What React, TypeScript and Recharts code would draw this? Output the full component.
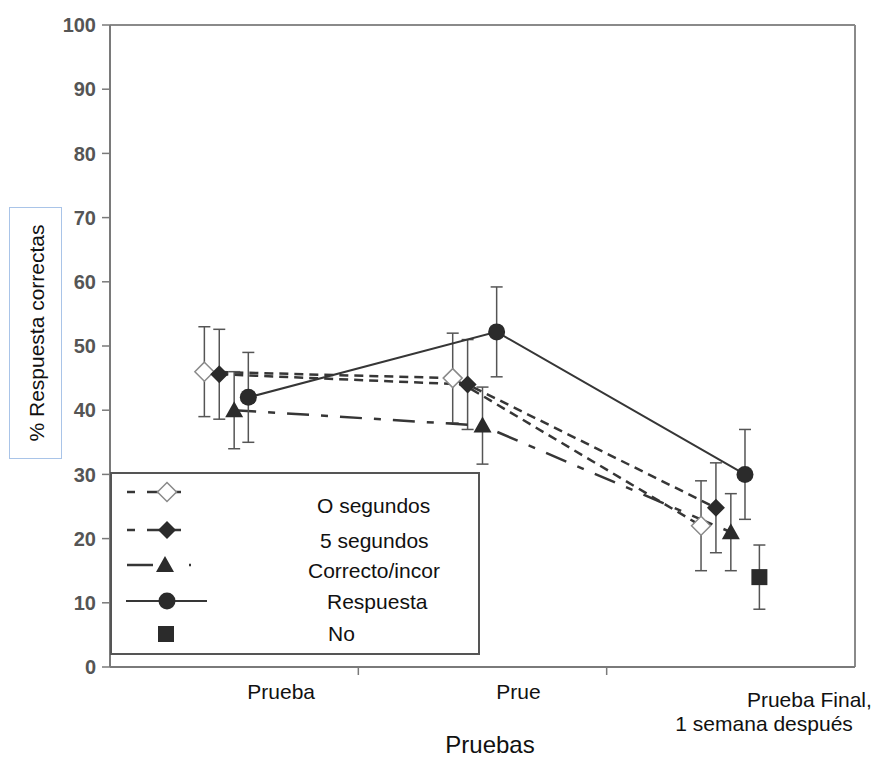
import { ComposedChart, Line, XAxis, YAxis, ErrorBar, ReferenceLine, Legend } from 'recharts';

const FONT = '"Liberation Sans", Arial, sans-serif';

// x categories and y ticks
const CATEGORIES = ['Prueba', 'Prue', 'Prueba Final,|1 semana después'];
const Y_TICKS = [0, 10, 20, 30, 40, 50, 60, 70, 80, 90, 100];

// series values (% correct) and error bar half-lengths
const CERO_SEG = [46, 45, 22];
const CERO_SEG_ERR = [7, 7, 7];
const CINCO_SEG = [45.6, 44, 24.8];
const CINCO_SEG_ERR = [7, 7, 7];
const CORRECTO = [40, 37.6, 21];
const CORRECTO_ERR = [6, 6, 6];
const RESPUESTA = [42, 52.2, 30];
const RESPUESTA_ERR = [7, 7, 7];
const NO_RESP = [null, null, 14];
const NO_RESP_ERR = [null, null, 5];

const W = 876;
const H = 760;
const MARGIN = { top: 25, right: 21, left: 0, bottom: 0 };
const X_AXIS_H = 93;
const AXIS_Y = H - MARGIN.bottom - X_AXIS_H;

const INK = '#2b2b2b';
const LINE = '#363636';
const AXIS = '#7a7a7a';

type Kind = 'openDiamond' | 'diamond' | 'triangle' | 'circle' | 'square';

const SERIES = [
  { key: 'cero', name: 'O segundos', values: CERO_SEG, errors: CERO_SEG_ERR, shift: -0.12, kind: 'openDiamond' as Kind, dash: '9 6', sw: 2.5 },
  { key: 'cinco', name: '5 segundos', values: CINCO_SEG, errors: CINCO_SEG_ERR, shift: -0.06, kind: 'diamond' as Kind, dash: '9 6', sw: 2.5 },
  { key: 'correcto', name: 'Correcto/incor', values: CORRECTO, errors: CORRECTO_ERR, shift: 0, kind: 'triangle' as Kind, dash: '22 12 7 12', sw: 2.5 },
  { key: 'respuesta', name: 'Respuesta', values: RESPUESTA, errors: RESPUESTA_ERR, shift: 0.057, kind: 'circle' as Kind, dash: undefined, sw: 2 },
  { key: 'no', name: 'No', values: NO_RESP, errors: NO_RESP_ERR, shift: 0.115, kind: 'square' as Kind, dash: undefined, sw: 0 },
];

function Marker({ kind, cx, cy }: { kind: Kind; cx: number; cy: number }) {
  if (kind === 'openDiamond') {
    const s = 9.5;
    return <polygon points={`${cx},${cy - s} ${cx + s},${cy} ${cx},${cy + s} ${cx - s},${cy}`} fill="#fff" stroke="#8a8a8a" strokeWidth={1.5} />;
  }
  if (kind === 'diamond') {
    const s = 9;
    return <polygon points={`${cx},${cy - s} ${cx + s},${cy} ${cx},${cy + s} ${cx - s},${cy}`} fill={INK} />;
  }
  if (kind === 'triangle') {
    return <polygon points={`${cx},${cy - 9} ${cx + 9},${cy + 7} ${cx - 9},${cy + 7}`} fill={INK} />;
  }
  if (kind === 'circle') return <circle cx={cx} cy={cy} r={8.5} fill={INK} />;
  return <rect x={cx - 8} y={cy - 8} width={16} height={16} fill={INK} />;
}

function makeDot(kind: Kind) {
  return (props: any) => {
    const { cx, cy, index } = props;
    if (cx == null || cy == null) return <g key={index} />;
    return (
      <g key={index}>
        <Marker kind={kind} cx={cx} cy={cy} />
      </g>
    );
  };
}

function XTick(props: any) {
  const { x, payload } = props;
  const v = payload.value as number;
  if (Number.isInteger(v)) {
    return <line x1={x} x2={x} y1={AXIS_Y} y2={AXIS_Y + 8} stroke={AXIS} strokeWidth={1.5} />;
  }
  const idx = Math.floor(v);
  const style = { fontFamily: FONT, fontSize: 21, fill: '#111' };
  if (idx === 0) {
    return <text x={x + 47} y={AXIS_Y + 32} textAnchor="middle" {...style}>{CATEGORIES[0]}</text>;
  }
  if (idx === 1) {
    return <text x={x + 36} y={AXIS_Y + 32} textAnchor="middle" {...style}>{CATEGORIES[1]}</text>;
  }
  const [l1, l2] = CATEGORIES[2].split('|');
  return (
    <g>
      <text x={x + 141} y={AXIS_Y + 40} textAnchor="end" {...style}>{l1}</text>
      <text x={x + 122} y={AXIS_Y + 64} textAnchor="end" {...style}>{l2}</text>
    </g>
  );
}

function XTitle() {
  return (
    <text x={490} y={H - 7} textAnchor="middle" fontFamily={FONT} fontSize={24} fill="#111">
      Pruebas
    </text>
  );
}

function YTitle() {
  return (
    <g>
      <rect x={9.5} y={207.5} width={52} height={251} fill="none" stroke="#a9c4e8" strokeWidth={1} />
      <text
        x={0}
        y={0}
        transform="translate(44, 333) rotate(-90)"
        textAnchor="middle"
        fontFamily={FONT}
        fontSize={21}
        fill="#111"
      >
        % Respuesta correctas
      </text>
    </g>
  );
}

function LegendBox() {
  const txt = { fontFamily: FONT, fontSize: 21, fill: '#111' };
  const ln = { stroke: LINE, strokeWidth: 2.5 };
  return (
    <svg width={372} height={184} style={{ display: 'block' }}>
      <rect x={2} y={1} width={368} height={181} fill="#fff" stroke="#555" strokeWidth={2} />
      {/* O segundos */}
      <line x1={18} x2={26} y1={20} y2={20} {...ln} />
      <line x1={38} x2={52} y1={20} y2={20} {...ln} />
      <line x1={62} x2={72} y1={20} y2={20} {...ln} />
      <Marker kind="openDiamond" cx={58} cy={20} />
      {/* 5 segundos */}
      <line x1={18} x2={26} y1={58} y2={58} {...ln} />
      <line x1={38} x2={72} y1={58} y2={58} {...ln} />
      <Marker kind="diamond" cx={58} cy={58} />
      {/* Correcto/incor */}
      <line x1={18} x2={44} y1={93} y2={93} {...ln} />
      <line x1={80} x2={82} y1={93} y2={93} {...ln} />
      <Marker kind="triangle" cx={56} cy={93} />
      {/* Respuesta */}
      <line x1={17} x2={98} y1={129} y2={129} stroke={LINE} strokeWidth={2} />
      <Marker kind="circle" cx={58} cy={129} />
      {/* No */}
      <Marker kind="square" cx={57} cy={162} />
      {SERIES.map((s, i) => (
        <text key={s.key} x={[208, 211, 199, 218, 219][i]} y={[41, 76, 106, 137, 169][i]} {...txt}>
          {s.name}
        </text>
      ))}
    </svg>
  );
}

export default function App() {
  const lines = SERIES.map((s) => ({
    ...s,
    data: s.values
      .map((v, i) => (v == null ? null : { x: i + 0.5 + s.shift, y: v, err: s.errors[i] }))
      .filter(Boolean),
  }));

  return (
    <div style={{ position: 'absolute', left: 0, top: 0, width: W, height: H, background: '#fff' }}>
      <ComposedChart width={W} height={H} margin={MARGIN}>
        <XAxis
          type="number"
          dataKey="x"
          domain={[0, 3]}
          ticks={[0.5, 1, 1.5, 2, 2.5]}
          interval={0}
          height={X_AXIS_H}
          tickLine={false}
          axisLine={{ stroke: AXIS, strokeWidth: 2 }}
          tick={<XTick />}
          label={<XTitle />}
        />
        <YAxis
          type="number"
          domain={[0, 100]}
          ticks={Y_TICKS}
          interval={0}
          width={110}
          tickSize={8}
          tickMargin={6}
          axisLine={{ stroke: AXIS, strokeWidth: 2 }}
          tickLine={{ stroke: AXIS, strokeWidth: 1.5 }}
          tick={{ fill: '#555', fontSize: 20, fontWeight: 700, fontFamily: FONT }}
          label={<YTitle />}
        />
        <ReferenceLine y={100} stroke="#8a8a8a" strokeWidth={2} />
        <ReferenceLine x={3} stroke="#8a8a8a" strokeWidth={2} />
        <Legend
          layout="vertical"
          align="center"
          verticalAlign="middle"
          wrapperStyle={{ left: 109, top: 472, width: 372, height: 184 }}
          content={() => <LegendBox />}
        />
        {lines.map((s) => (
          <Line
            key={s.key}
            name={s.name}
            data={s.data}
            dataKey="y"
            type="linear"
            stroke={s.sw ? LINE : 'none'}
            strokeWidth={s.sw}
            strokeDasharray={s.dash}
            dot={makeDot(s.kind)}
            activeDot={false}
            isAnimationActive={false}
          >
            <ErrorBar dataKey="err" direction="y" width={6} stroke="#555" strokeWidth={1.5} />
          </Line>
        ))}
      </ComposedChart>
    </div>
  );
}
